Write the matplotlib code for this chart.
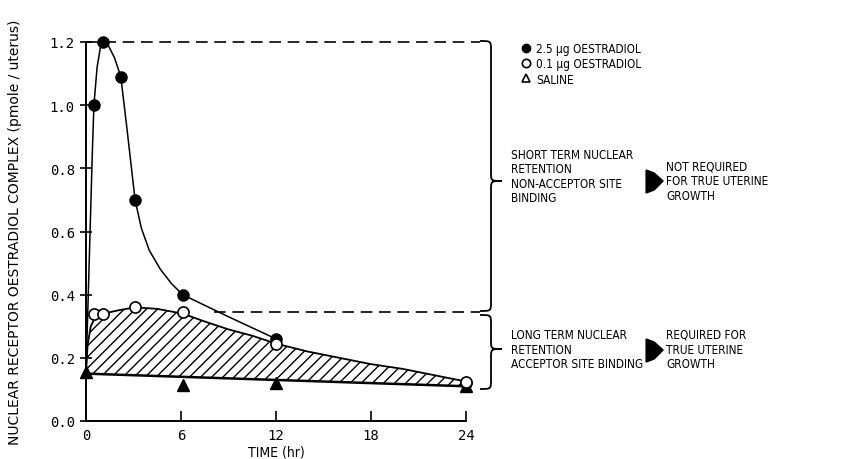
import numpy as np
import matplotlib.pyplot as plt
from matplotlib.path import Path
from matplotlib.patches import PathPatch, Polygon
from matplotlib.lines import Line2D
from matplotlib import font_manager as fm

# measured points
hi_t = [0.5, 1.1, 2.2, 3.1, 6.1, 12.0, 24.0]
hi_y = [1.0, 1.2, 1.09, 0.70, 0.40, 0.26, 0.12]
lo_t = [0.5, 1.1, 3.1, 6.1, 12.0, 24.0]
lo_y = [0.34, 0.34, 0.36, 0.345, 0.245, 0.125]
sal_t = [0.0, 6.1, 12.0, 24.0]
sal_y = [0.155, 0.115, 0.12, 0.11]

# hand drawn curves
hi_curve_t = [0.0, 0.2, 0.4, 0.5, 0.7, 0.9, 1.1, 1.4, 1.8, 2.2, 2.6, 3.1, 3.5, 4.0, 4.7, 5.4, 6.1, 9.0, 12.0]
hi_curve_y = [0.15, 0.50, 0.85, 1.00, 1.12, 1.18, 1.20, 1.19, 1.15, 1.09, 0.92, 0.70, 0.61, 0.54, 0.48, 0.435, 0.40, 0.33, 0.26]
lo_curve_t = [0.0, 0.1, 0.3, 0.6, 1.1, 2.0, 3.1, 4.5, 6.1, 7.5, 9.0, 10.5, 12.0, 14.0, 16.0, 18.0, 20.0, 22.0, 24.0]
lo_curve_y = [0.15, 0.24, 0.30, 0.33, 0.34, 0.35, 0.36, 0.355, 0.34, 0.315, 0.29, 0.27, 0.245, 0.22, 0.20, 0.18, 0.165, 0.145, 0.125]
sal_line_t = [0.0, 24.0]
sal_line_y = [0.15, 0.11]

short_cut = 0.345   # lower dashed level
legend_labels = ["2.5 \u00b5g OESTRADIOL", "0.1 \u00b5g OESTRADIOL", "SALINE"]
short_txt = "SHORT TERM NUCLEAR\nRETENTION\nNON-ACCEPTOR SITE\nBINDING"
short_res = "NOT REQUIRED\nFOR TRUE UTERINE\nGROWTH"
long_txt = "LONG TERM NUCLEAR\nRETENTION\nACCEPTOR SITE BINDING"
long_res = "REQUIRED FOR\nTRUE UTERINE\nGROWTH"


# look for a narrow sans face, the original lettering is very condensed
def narrow_file():
    best = None
    for f in fm.fontManager.ttflist:
        if f.style != "normal" or str(f.weight) not in ("400", "normal", "regular", "book"):
            continue
        cond = "Narrow" in f.name or "Condensed" in f.name or "condensed" in str(f.stretch)
        if not cond:
            continue
        rank = 0 if "Liberation Sans Narrow" in f.name else (1 if "DejaVu Sans" in f.name else 2)
        if best is None or rank < best[0]:
            best = (rank, f.fname)
    return best[1] if best else None

nf = narrow_file()

def tfont(size):
    if nf:
        return fm.FontProperties(fname=nf, size=size)
    return fm.FontProperties(family="Liberation Sans", size=size)

W, H = 848, 460
fig = plt.figure(figsize=(W / 100, H / 100), dpi=100)
ax = fig.add_axes([86 / W, 1 - 422 / H, 380 / W, 379 / H])

def fx(x):
    return x / W

def fy(y):
    return 1 - y / H

ax.set_xlim(0, 24)
ax.set_ylim(0, 1.2)
ax.spines["top"].set_visible(False)
ax.spines["right"].set_visible(False)
for s in ["left", "bottom"]:
    ax.spines[s].set_linewidth(1.4)

ax.set_xticks([0, 6, 12, 18, 24])
ax.set_yticks(np.arange(0, 1.21, 0.2))
ax.set_yticklabels(["%.1f" % v for v in np.arange(0, 1.21, 0.2)])
ax.tick_params(axis="y", direction="inout", length=8, width=1.2, labelsize=10, pad=4)
ax.tick_params(axis="x", direction="in", length=7, width=1.2, labelsize=10, pad=5)
for lab in ax.get_xticklabels() + ax.get_yticklabels():
    lab.set_family("DejaVu Sans Mono")

ax.set_xlabel("TIME (hr)", fontproperties=tfont(10), labelpad=2)
ax.set_ylabel("NUCLEAR RECEPTOR OESTRADIOL COMPLEX (pmole / uterus)", fontsize=10, labelpad=20)

# hatched area between saline line and low dose curve
ax.fill(lo_curve_t + sal_line_t[::-1], lo_curve_y + sal_line_y[::-1],
        facecolor="none", edgecolor="black", hatch="///", linewidth=0)

ax.plot(hi_curve_t, hi_curve_y, color="black", lw=1.1, clip_on=False)
ax.plot(lo_curve_t, lo_curve_y, color="black", lw=1.3, clip_on=False)
ax.plot(sal_line_t, sal_line_y, color="black", lw=1.8, clip_on=False)

ax.plot(hi_t, hi_y, "o", color="black", ms=8, clip_on=False, zorder=5)
ax.plot(lo_t, lo_y, "o", mfc="white", mec="black", mew=1.2, ms=8, clip_on=False, zorder=6)
ax.plot(sal_t, sal_y, "^", color="black", ms=8, clip_on=False, zorder=5)

# dashed guides to the braces
ax.plot([0, 24.9], [1.2, 1.2], color="black", lw=1.2, ls=(0, (7, 4)), clip_on=False)
ax.plot([8.1, 24.9], [short_cut, short_cut], color="black", lw=1.2, ls=(0, (7, 4)), clip_on=False)

def brace(xl, xt, ytop, ybot, ytip, r=9):
    xm = (xl + xt) / 2
    pts = [(xl, ytop), (xm, ytop), (xm, ytop), (xm, ytop + r),
           (xm, ytip - r),
           (xm, ytip), (xm, ytip), (xt, ytip),
           (xm, ytip), (xm, ytip), (xm, ytip + r),
           (xm, ybot - r),
           (xm, ybot), (xm, ybot), (xl, ybot)]
    codes = [Path.MOVETO, Path.CURVE4, Path.CURVE4, Path.CURVE4,
             Path.LINETO,
             Path.CURVE4, Path.CURVE4, Path.CURVE4,
             Path.CURVE4, Path.CURVE4, Path.CURVE4,
             Path.LINETO,
             Path.CURVE4, Path.CURVE4, Path.CURVE4]
    pts = [(fx(x), fy(y)) for x, y in pts]
    fig.patches.append(PathPatch(Path(pts, codes), transform=fig.transFigure,
                                 facecolor="none", edgecolor="black", lw=1.3))

brace(480, 502, 42, 312, 182)
brace(480, 502, 316, 390, 350)

def block_arrow(x0, yc):
    pts = [(x0, yc - 11), (x0 + 8, yc - 8), (x0 + 17, yc), (x0 + 8, yc + 9), (x0, yc + 12)]
    fig.patches.append(Polygon([(fx(x), fy(y)) for x, y in pts], closed=True,
                               transform=fig.transFigure, facecolor="black", edgecolor="black"))

tsize = 8.5
tkw = dict(fontproperties=tfont(tsize), va="center", ha="left", linespacing=1.15)
t1 = fig.text(fx(511), fy(177), short_txt, **tkw)
t2 = fig.text(fx(511), fy(350), long_txt, **tkw)

# put the arrows just right of the widest left block
fig.canvas.draw()
rend = fig.canvas.get_renderer()
right = max(t1.get_window_extent(rend).x1, t2.get_window_extent(rend).x1)
ax_x = max(601, right + 3)

block_arrow(ax_x, 182)
block_arrow(ax_x, 351)
fig.text(fx(ax_x + 20), fy(182), short_res, **tkw)
fig.text(fx(ax_x + 20), fy(350), long_res, **tkw)

handles = [Line2D([], [], marker="o", ls="none", color="black", ms=6),
           Line2D([], [], marker="o", ls="none", mfc="white", mec="black", mew=1.2, ms=6),
           Line2D([], [], marker="^", ls="none", mfc="white", mec="black", mew=1.2, ms=6)]
ax.legend(handles, legend_labels, loc="upper left", bbox_to_anchor=(fx(515), fy(37)),
          bbox_transform=fig.transFigure, frameon=False, handlelength=0.9,
          handletextpad=0.4, labelspacing=0.2, borderpad=0,
          prop=tfont(tsize))

fig.savefig("out.png", dpi=100)
